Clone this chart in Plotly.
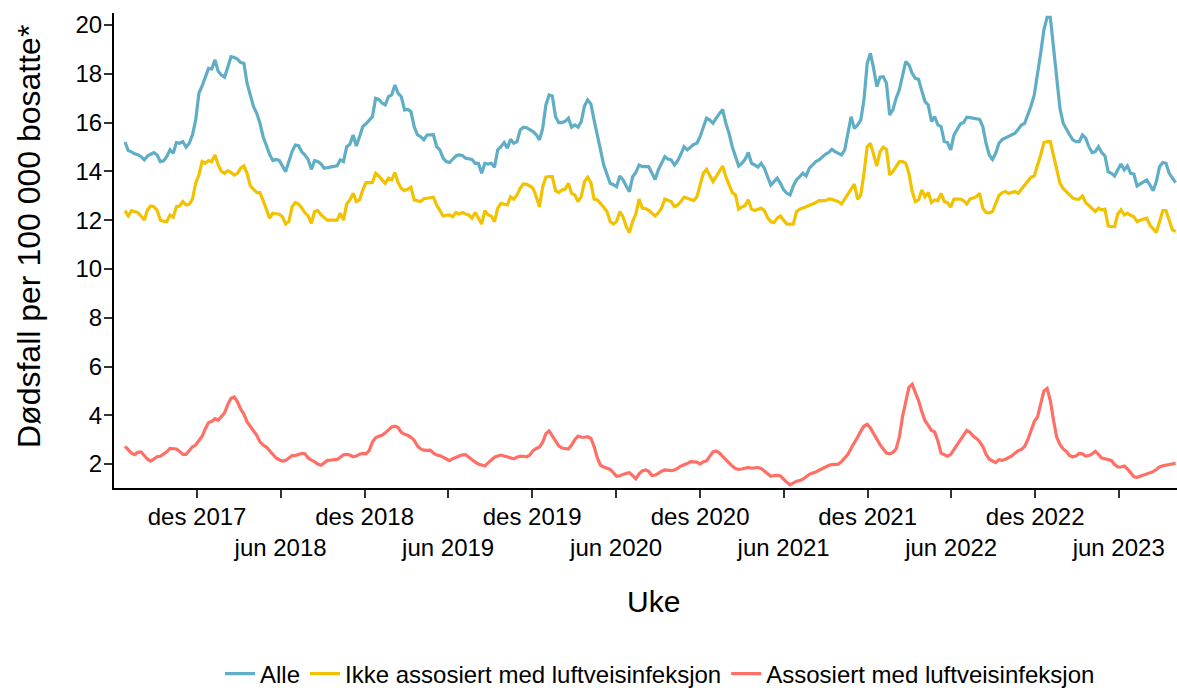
import pandas as pd
import plotly.graph_objects as go

# ---- data (weekly rates per 100 000 inhabitants) ----
start_date = "2017-06-27"

alle = [
    15.2, 14.85, 14.8, 14.72, 14.68, 14.6, 14.47, 14.63, 14.7, 14.77,
    14.67, 14.4, 14.43, 14.6, 14.88, 14.74, 15.18, 15.15, 15.22, 14.99,
    15.15, 15.5, 16.1, 17.2, 17.5, 17.9, 18.22, 18.2, 18.57, 18.1,
    17.95, 17.86, 18.3, 18.7, 18.67, 18.6, 18.46, 18.43, 17.6, 17.06,
    16.65, 16.38, 15.97, 15.42, 15.01, 14.7, 14.44, 14.49, 14.45, 14.2,
    13.99, 14.4, 14.81, 15.08, 15.05, 14.8, 14.67, 14.49, 14.08, 14.44,
    14.4, 14.3, 14.13, 14.15, 14.17, 14.2, 14.23, 14.47, 14.4, 15.01,
    15.11, 15.49, 15.04, 15.42, 15.83, 15.95, 16.1, 16.24, 16.99, 16.95,
    16.8, 16.72, 17.06, 17.13, 17.54, 17.2, 17.06, 16.52, 16.54, 16.45,
    15.83, 15.5, 15.42, 15.29, 15.49, 15.49, 15.5, 15.01, 14.88, 14.54,
    14.4, 14.36, 14.5, 14.63, 14.67, 14.65, 14.54, 14.5, 14.49, 14.33,
    14.33, 13.92, 14.33, 14.3, 14.33, 14.17, 14.88, 15.01, 15.18, 14.95,
    15.31, 15.15, 15.22, 15.7, 15.81, 15.79, 15.72, 15.63, 15.5, 15.29,
    15.76, 16.72, 17.13, 17.09, 16.24, 16.0, 16.0, 16.05, 16.18, 15.81,
    15.9, 15.81, 16.04, 16.68, 16.93, 16.76, 16.1, 15.42, 14.88, 14.26,
    13.92, 13.51, 13.45, 13.37, 13.81, 13.65, 13.4, 13.17, 13.78, 13.95,
    14.26, 14.19, 14.19, 14.19, 13.92, 13.67, 14.06, 14.3, 14.6, 14.5,
    14.47, 14.26, 14.43, 14.7, 15.01, 14.88, 15.01, 15.1, 15.15, 15.42,
    15.81, 16.18, 16.1, 15.97, 16.18, 16.38, 16.54, 15.97, 15.56, 15.01,
    14.6, 14.22, 14.33, 14.49, 14.77, 14.33, 14.26, 14.17, 14.33, 14.13,
    13.78, 13.44, 13.58, 13.72, 13.51, 13.24, 13.1, 13.03, 13.4, 13.65,
    13.78, 13.92, 13.81, 14.13, 14.26, 14.4, 14.47, 14.6, 14.7, 14.77,
    14.9, 14.81, 14.75, 14.67, 14.88, 15.63, 16.24, 15.76, 15.9, 16.1,
    16.93, 18.43, 18.84, 18.22, 17.47, 17.86, 17.88, 17.61, 16.31, 16.52,
    17.0, 17.34, 17.88, 18.5, 18.36, 18.02, 17.81, 17.77, 17.3, 16.86,
    16.72, 16.04, 16.24, 15.9, 15.83, 15.22, 15.18, 14.88, 15.49, 15.72,
    15.94, 16.0, 16.22, 16.2, 16.18, 16.13, 16.13, 15.83, 15.15, 14.67,
    14.49, 14.74, 15.15, 15.3, 15.36, 15.42, 15.5, 15.56, 15.72, 15.9,
    15.97, 16.31, 16.68, 17.13, 17.95, 18.84, 19.8, 20.31, 20.31, 18.98,
    17.81, 16.58, 15.97, 15.7, 15.5, 15.29, 15.22, 15.22, 15.49, 15.36,
    15.01, 14.77, 14.81, 15.01, 14.77, 14.63, 13.99, 13.92, 13.81, 14.06,
    14.3, 14.06, 14.22, 13.92, 13.89, 13.4, 13.48, 13.55, 13.65, 13.44,
    13.21, 13.58, 14.19, 14.36, 14.33, 13.92, 13.72, 13.54,
]

ikke_luftvei = [
    12.39, 12.17, 12.39, 12.35, 12.31, 12.17, 12.0, 12.42, 12.58, 12.55,
    12.4, 12.0, 11.95, 11.94, 12.21, 12.12, 12.55, 12.58, 12.76, 12.62,
    12.66, 12.86, 13.51, 13.85, 14.4, 14.33, 14.44, 14.4, 14.67, 14.26,
    14.0, 13.92, 14.03, 13.95, 13.85, 13.92, 14.13, 14.22, 13.92, 13.4,
    13.27, 13.13, 13.13, 12.83, 12.45, 12.08, 12.28, 12.26, 12.24, 12.14,
    11.84, 11.94, 12.55, 12.72, 12.66, 12.5, 12.3, 12.17, 11.87, 12.35,
    12.39, 12.21, 12.1, 12.0, 12.0, 12.0, 12.0, 12.28, 12.0, 12.66,
    12.83, 13.1, 12.76, 12.83, 13.24, 13.54, 13.54, 13.54, 13.92, 13.81,
    13.65, 13.51, 13.72, 13.65, 13.95, 13.54, 13.3, 13.21, 13.27, 13.35,
    12.83, 12.8, 12.76, 12.88, 12.9, 12.92, 12.94, 12.62, 12.42, 12.17,
    12.2, 12.21, 12.14, 12.31, 12.25, 12.31, 12.25, 12.21, 12.08, 12.31,
    12.08, 11.84, 12.39, 12.21, 12.17, 11.94, 12.49, 12.69, 12.65, 12.62,
    12.96, 12.86, 13.03, 13.31, 13.48, 13.47, 13.4, 13.31, 12.96, 12.55,
    13.37, 13.76, 13.78, 13.78, 13.21, 13.13, 13.24, 13.27, 13.51, 13.1,
    13.03, 12.76, 12.96, 13.58, 13.76, 13.54, 12.86, 12.83, 12.69, 12.5,
    12.35, 11.94, 11.84, 11.94, 12.35, 12.14, 11.73, 11.49, 11.94, 12.25,
    12.86, 12.49, 12.47, 12.4, 12.28, 12.17, 12.3, 12.49, 12.86, 12.8,
    12.76, 12.55, 12.62, 12.76, 12.94, 12.9, 12.86, 12.8, 12.96, 13.44,
    13.92, 14.08, 13.85, 13.58, 13.78, 14.0, 14.22, 13.78, 13.44, 13.13,
    13.03, 12.45, 12.53, 12.6, 12.83, 12.45, 12.39, 12.45, 12.49, 12.39,
    12.1, 11.94, 11.9, 12.08, 12.17, 12.0, 11.84, 11.84, 11.84, 12.35,
    12.45, 12.5, 12.55, 12.58, 12.66, 12.72, 12.8, 12.8, 12.8, 12.86,
    12.86, 12.8, 12.76, 12.66, 12.86, 13.1, 13.31, 13.48, 12.86, 13.03,
    13.92, 15.01, 15.15, 14.71, 14.22, 14.81, 14.99, 14.9, 13.85, 13.99,
    14.2, 14.4, 14.4, 14.33, 13.92, 13.17, 12.76, 12.83, 13.24, 12.96,
    13.13, 12.72, 12.83, 12.8, 13.1, 12.76, 12.72, 12.53, 12.86, 12.86,
    12.86, 12.8, 12.66, 12.86, 12.9, 12.96, 13.1, 12.49, 12.31, 12.3,
    12.35, 12.69, 13.0, 13.13, 13.17, 13.1, 13.14, 13.17, 13.1, 13.27,
    13.44, 13.6, 13.76, 13.81, 14.19, 14.67, 15.18, 15.22, 15.22, 14.67,
    14.13, 13.51, 13.3, 13.17, 13.03, 12.9, 12.86, 12.86, 12.99, 12.72,
    12.6, 12.49, 12.35, 12.49, 12.42, 12.45, 11.76, 11.73, 11.73, 12.25,
    12.42, 12.21, 12.28, 12.2, 12.14, 11.94, 12.0, 12.05, 12.08, 11.8,
    11.65, 11.49, 11.94, 12.39, 12.39, 11.94, 11.6, 11.53,
]

luftvei = [
    2.73, 2.57, 2.45, 2.39, 2.48, 2.5, 2.35, 2.2, 2.12, 2.2,
    2.3, 2.32, 2.4, 2.5, 2.64, 2.64, 2.62, 2.52, 2.4, 2.4,
    2.58, 2.71, 2.78, 2.95, 3.14, 3.45, 3.7, 3.75, 3.86, 3.8,
    3.93, 4.1, 4.45, 4.7, 4.75, 4.55, 4.25, 4.05, 3.73, 3.55,
    3.4, 3.18, 2.91, 2.78, 2.7, 2.55, 2.41, 2.25, 2.18, 2.12,
    2.15, 2.27, 2.35, 2.35, 2.38, 2.44, 2.42, 2.25, 2.16, 2.1,
    2.0, 1.95, 2.05, 2.15, 2.16, 2.18, 2.19, 2.28, 2.38, 2.4,
    2.37, 2.3, 2.33, 2.4, 2.44, 2.42, 2.55, 2.9, 3.08, 3.14,
    3.18, 3.28, 3.42, 3.52, 3.55, 3.5, 3.3, 3.22, 3.18, 3.1,
    2.98, 2.75, 2.62, 2.57, 2.56, 2.57, 2.45, 2.37, 2.35, 2.28,
    2.2, 2.14, 2.22, 2.27, 2.35, 2.38, 2.39, 2.3, 2.18, 2.08,
    2.0, 1.96, 1.92, 2.05, 2.18, 2.28, 2.33, 2.37, 2.33, 2.3,
    2.27, 2.22, 2.28, 2.33, 2.32, 2.3, 2.37, 2.55, 2.64, 2.7,
    2.9, 3.25, 3.36, 3.14, 2.92, 2.75, 2.66, 2.64, 2.62, 2.78,
    3.0, 3.15, 3.1, 3.1, 3.12, 3.05, 2.73, 2.25, 1.95, 1.88,
    1.84, 1.78, 1.65, 1.5, 1.52, 1.58, 1.62, 1.65, 1.52, 1.4,
    1.6, 1.72, 1.76, 1.7, 1.53, 1.55, 1.62, 1.71, 1.76, 1.74,
    1.73, 1.76, 1.82, 1.92, 1.96, 2.02, 2.1, 2.1, 2.08, 2.0,
    2.1, 2.13, 2.3, 2.5, 2.54, 2.45, 2.32, 2.18, 2.05, 1.92,
    1.82, 1.78, 1.8, 1.84, 1.86, 1.83, 1.84, 1.86, 1.82, 1.7,
    1.6, 1.5, 1.53, 1.54, 1.51, 1.37, 1.25, 1.15, 1.22, 1.3,
    1.32, 1.38, 1.48, 1.58, 1.63, 1.67, 1.75, 1.82, 1.88, 1.94,
    1.98, 2.0, 2.0, 2.1, 2.23, 2.4, 2.65, 2.85, 3.1, 3.35,
    3.55, 3.63, 3.48, 3.25, 3.0, 2.8, 2.62, 2.45, 2.42, 2.48,
    2.62, 3.1, 3.95, 4.6, 5.15, 5.27, 4.95, 4.6, 4.15, 3.78,
    3.59, 3.38, 3.32, 2.95, 2.45, 2.37, 2.32, 2.4, 2.6, 2.78,
    2.95, 3.18, 3.38, 3.3, 3.15, 3.05, 2.92, 2.72, 2.4, 2.2,
    2.14, 2.06, 2.18, 2.15, 2.2, 2.25, 2.33, 2.45, 2.55, 2.6,
    2.72, 3.0, 3.4, 3.75, 3.93, 4.48, 5.0, 5.1, 4.6, 3.8,
    3.1, 2.8, 2.62, 2.52, 2.35, 2.3, 2.33, 2.44, 2.42, 2.33,
    2.35, 2.42, 2.52, 2.4, 2.25, 2.22, 2.19, 2.15, 1.98, 1.88,
    1.88, 1.92, 1.8, 1.63, 1.48, 1.46, 1.5, 1.55, 1.6, 1.63,
    1.69, 1.78, 1.88, 1.93, 1.96, 1.98, 2.01, 2.03,
]

series_names = ["Alle", "Ikke assosiert med luftveisinfeksjon", "Assosiert med luftveisinfeksjon"]
series_colors = ["#5FAEC5", "#F2C200", "#FF6F66"]

tick_dates = ["2017-12-01", "2018-06-01", "2018-12-01", "2019-06-01", "2019-12-01",
              "2020-06-01", "2020-12-01", "2021-06-01", "2021-12-01", "2022-06-01",
              "2022-12-01", "2023-06-01"]
tick_labels = ["des 2017", "jun 2018", "des 2018", "jun 2019", "des 2019", "jun 2020",
               "des 2020", "jun 2021", "des 2021", "jun 2022", "des 2022", "jun 2023"]
y_ticks = [2, 4, 6, 8, 10, 12, 14, 16, 18, 20]

x_title = "Uke"
y_title = "Dødsfall per 100 000 bosatte*"

# ---- figure ----
weeks = pd.date_range(start_date, periods=len(alle), freq="7D")
FONT = "Liberation Sans, Arial, sans-serif"

W, H = 1177, 688
ML, MT, MB = 114, 13, 200
PW, PH = W - ML, H - MT - MB  # plot area size in px


def px_x(x):  # window px -> paper x
    return (x - ML) / PW


def px_y(y):  # window px -> paper y
    return (H - MB - y) / PH


fig = go.Figure()
for name, vals, col in zip(series_names, [alle, ikke_luftvei, luftvei], series_colors):
    fig.add_trace(go.Scatter(x=weeks, y=vals, mode="lines", name=name,
                             line=dict(color=col, width=3.2)))

# jun labels on a second row
ticktext = [t if i % 2 == 0 else "<br>" + t for i, t in enumerate(tick_labels)]

fig.update_layout(
    width=W, height=H,
    margin=dict(l=ML, r=0, t=MT, b=MB, autoexpand=False),
    paper_bgcolor="white", plot_bgcolor="white",
    font=dict(family=FONT, size=24, color="black"),
    showlegend=True,
    legend=dict(orientation="h", x=px_x(660), xanchor="center", y=px_y(674), yanchor="middle",
                font=dict(size=24, family=FONT, color="black"), itemwidth=30,
                bgcolor="rgba(0,0,0,0)"),
    xaxis=dict(
        type="date", range=["2017-06-03", "2023-10-06"],
        tickmode="array", tickvals=tick_dates, ticktext=ticktext, tickangle=0,
        ticks="outside", ticklen=8, tickwidth=1.5, tickcolor="#333333",
        ticklabelstandoff=-2,
        showline=True, linecolor="black", linewidth=2,
        showgrid=False, zeroline=False,
        tickfont=dict(size=24, family=FONT, color="black"),
    ),
    yaxis=dict(
        range=[1.02, 20.49], tickvals=y_ticks,
        ticks="outside", ticklen=8, tickwidth=1.5, tickcolor="#333333",
        ticklabelstandoff=-3,
        showline=True, linecolor="black", linewidth=2,
        showgrid=False, zeroline=False,
        tickfont=dict(size=24, family=FONT, color="black"),
    ),
    annotations=[
        dict(text=x_title, xref="paper", yref="paper", x=px_x(653), y=px_y(601),
             xanchor="center", yanchor="middle", showarrow=False,
             font=dict(size=30, family=FONT, color="black")),
        dict(text=y_title, xref="paper", yref="paper", x=px_x(29), y=px_y(237),
             xanchor="center", yanchor="middle", showarrow=False, textangle=-90,
             font=dict(size=32, family=FONT, color="black")),
    ],
)

# remove the default 8 px page margin so the figure fills the window exactly
fig.write_html("out.html",
               config={"displayModeBar": False},
               post_script="document.body.style.margin='0';document.body.style.overflow='hidden';")
